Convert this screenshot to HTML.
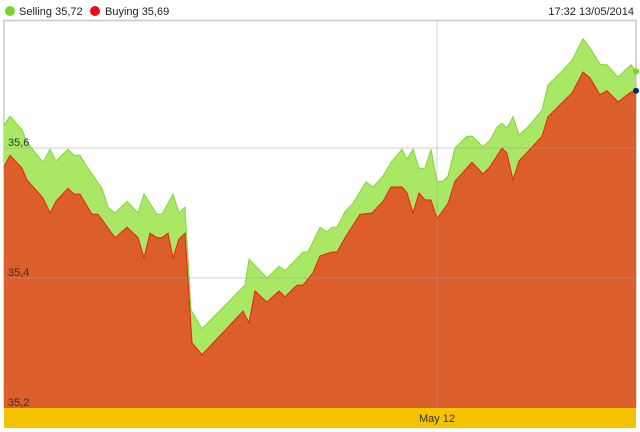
<!DOCTYPE html>
<html><head><meta charset="utf-8"><style>
body{margin:0;background:#fff;width:640px;height:432px;overflow:hidden;font-family:"Liberation Sans",sans-serif}
svg{display:block}
</style></head><body>
<svg id="chart" width="640" height="432">
<g id="legend">
<g><circle cx="10" cy="11" r="5" fill="#79d42c"/><text x="19" y="15" font-size="11" fill="#222">Selling 35,72</text></g>
<g><circle cx="95" cy="11" r="5" fill="#e80f0f"/><text x="105" y="15" font-size="11" fill="#222">Buying 35,69</text></g>
<text x="634" y="15" font-size="11" fill="#222" text-anchor="end">17:32 13/05/2014</text>
</g>
<rect x="4" y="407" width="632" height="21" fill="#f4c400"/>
<g id="grid"></g>
<g id="series"></g>
<g id="labels"></g>
</svg>
<script>
const sellT=[0,6,18,23,39,46,52,64,70,76,83,98,104,111,123,134,140,153,158,169,175,181,187,198,241,245,263,275,281,299,304,316,323,328,333,341,349,362,369,379,387,398,403,409,415,421,427,433,439,444,451,463,468,479,486,493,498,503,509,515,523,538,544,556,568,579,586,596,603,614,627,632];
const sellV=[35.635,35.649,35.628,35.609,35.578,35.598,35.580,35.598,35.589,35.589,35.571,35.538,35.509,35.500,35.518,35.500,35.529,35.498,35.498,35.529,35.500,35.509,35.351,35.322,35.389,35.429,35.400,35.418,35.411,35.440,35.440,35.478,35.471,35.478,35.478,35.502,35.515,35.548,35.540,35.557,35.578,35.598,35.583,35.598,35.569,35.569,35.598,35.549,35.549,35.557,35.600,35.618,35.618,35.602,35.612,35.632,35.638,35.631,35.648,35.620,35.631,35.658,35.697,35.715,35.735,35.768,35.754,35.729,35.728,35.709,35.728,35.718];
const buyT=[0,6,18,23,39,46,52,64,70,76,88,94,111,123,134,140,146,153,158,164,169,175,181,188,198,239,245,251,263,275,281,293,299,309,316,328,333,341,356,368,379,387,398,403,409,415,421,427,433,444,451,468,479,486,498,503,509,515,538,544,568,579,586,596,603,614,627,632];
const buyV=[35.571,35.589,35.569,35.551,35.523,35.500,35.518,35.538,35.529,35.529,35.498,35.498,35.462,35.478,35.462,35.431,35.469,35.462,35.462,35.469,35.431,35.460,35.469,35.300,35.282,35.349,35.331,35.380,35.363,35.380,35.371,35.389,35.389,35.408,35.434,35.440,35.440,35.462,35.498,35.500,35.518,35.540,35.540,35.531,35.500,35.531,35.520,35.520,35.491,35.515,35.549,35.578,35.560,35.571,35.600,35.592,35.551,35.580,35.618,35.648,35.685,35.717,35.708,35.682,35.688,35.671,35.686,35.688];
const yTicks=[35.2,35.4,35.6];
const yTickLabels=["35,2","35,4","35,6"];
const xMarkT=[433];
const xMarkLabels=["May 12"];
const NS="http://www.w3.org/2000/svg";
const X0=4,X1=636,TMAX=632,YB=408,VMIN=35.2,PXPER=650;
const xs=t=>X0+t/TMAX*(X1-X0);
const ys=v=>YB-(v-VMIN)*PXPER;
function mk(tag,attrs,parent){const e=document.createElementNS(NS,tag);for(const k in attrs)e.setAttribute(k,attrs[k]);parent.appendChild(e);return e;}
const grid=document.getElementById('grid'),ser=document.getElementById('series'),lab=document.getElementById('labels');
let b=mk('path',{d:`M${X0} 407V20.5H${X1}V407`,fill:'none',stroke:'#c8c8c8','stroke-width':1.5},grid);


function area(T,V,fill,stroke,name){
  let d=`M${xs(T[0])} ${YB}`;T.forEach((t,i)=>d+=`L${xs(t).toFixed(1)} ${ys(V[i]).toFixed(1)}`);d+=`L${xs(T[T.length-1])} ${YB}Z`;
  const a=mk('path',{d,fill,stroke:'none'},ser);
  
  
  let l='';T.forEach((t,i)=>l+=(i?'L':'M')+xs(t).toFixed(1)+' '+ys(V[i]).toFixed(1));
  const p=mk('path',{d:l,fill:'none',stroke,'stroke-width':1},ser);
  
  
}
area(sellT,sellV,'#a8e865','#82d63a','selling');
area(buyT,buyV,'#dc5e2b','#e8230f','buying');
yTicks.forEach((v,i)=>{
  if(i>0){const g=mk('line',{x1:X0,x2:X1,y1:ys(v),y2:ys(v),stroke:'rgba(160,160,160,0.5)','stroke-width':1},lab);
  
  }
  const t=mk('text',{x:8,y:ys(v)-2,'font-size':11,fill:'#333'},lab);t.textContent=yTickLabels[i];
  
  
});
xMarkT.forEach((tv,i)=>{
  const g=mk('line',{x1:xs(tv),x2:xs(tv),y1:21,y2:407,stroke:'rgba(160,160,160,0.45)','stroke-width':1},lab);
  
  
  const t=mk('text',{x:xs(tv),y:422,'font-size':11,fill:'#333','text-anchor':'middle'},lab);t.textContent=xMarkLabels[i];
  
  
});
const d1=mk('circle',{cx:X1,cy:ys(sellV[sellV.length-1]),r:3,fill:'#79d42c'},lab);


const d2=mk('circle',{cx:X1,cy:ys(buyV[buyV.length-1]),r:3,fill:'#0d2a66'},lab);


</script>
</body></html>
